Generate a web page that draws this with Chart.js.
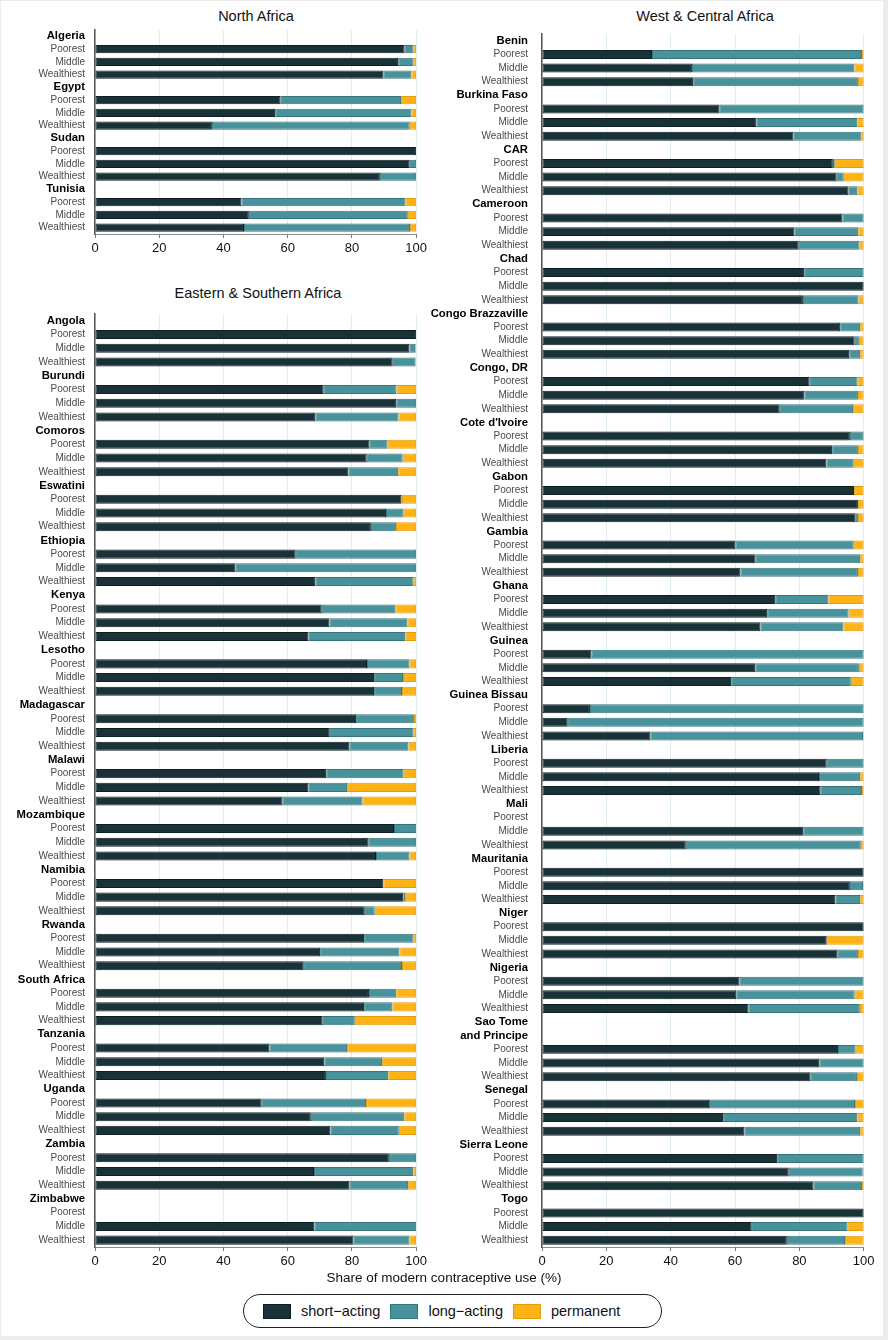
<!DOCTYPE html>
<html>
<head>
<meta charset="utf-8">
<script src="https://cdn.jsdelivr.net/npm/chart.js@4.4.1/dist/chart.umd.min.js"></script>
<style>
  body { margin: 0; background: #ececec; font-family: "Liberation Sans", Arial, Helvetica, sans-serif; }
  #page { position: absolute; left: 1px; top: 1px; width: 882px; height: 1335px; background: #fff; }
  canvas { position: absolute; }
  .ttl { position: absolute; width: 320px; text-align: center; font-size: 14.5px; line-height: 18px; color: #111; }
  #xtitle { position: absolute; left: 144px; top: 1269px; width: 600px; text-align: center; font-size: 13.5px; line-height: 18px; color: #111; }
  #legend { position: absolute; left: 243px; top: 1294px; width: 398px; height: 32px; border: 1.5px solid #222; border-radius: 18px;
            display: flex; align-items: center; padding-left: 19px; box-sizing: content-box; }
  #legend .box { width: 26px; height: 13px; border: 1px solid; margin-right: 10px; }
  #legend .lab { font-size: 14.5px; color: #111; margin-right: 10px; }
</style>
</head>
<body>
<div id="page"></div>
<div class="ttl" style="left:96px;top:7px">North Africa</div>
<div class="ttl" style="left:98px;top:284px">Eastern &amp; Southern Africa</div>
<div class="ttl" style="left:545px;top:7px">West &amp; Central Africa</div>
<canvas id="na" width="430" height="250" style="left:0;top:14px"></canvas>
<canvas id="es" width="430" height="979" style="left:0;top:298px"></canvas>
<canvas id="wc" width="463" height="1263" style="left:425px;top:14px"></canvas>
<div id="xtitle">Share of modern contraceptive use (%)</div>
<div id="legend"></div>
<script>
const groups = ['Poorest', 'Middle', 'Wealthiest'];
const seriesNames = ['short−acting', 'long−acting', 'permanent'];
const xTicks = [0, 20, 40, 60, 80, 100];

// North Africa (3 values per country: Poorest, Middle, Wealthiest)
const naCountries = ['Algeria', 'Egypt', 'Sudan', 'Tunisia'];
const naShort = [96.4, 94.4, 89.8,  57.8, 56.1, 36.4,  100, 98.0, 88.7,  45.6, 47.9, 46.4];
const naLong  = [2.8, 4.8, 8.7,  37.5, 42.4, 61.6,  0, 2.0, 11.3,  51.1, 49.5, 51.7];
const naPerm  = [0.8, 0.8, 1.5,  4.7, 1.5, 2.0,  0, 0, 0,  3.3, 2.6, 1.9];

// Eastern & Southern Africa
const esCountries = ['Angola', 'Burundi', 'Comoros', 'Eswatini', 'Ethiopia', 'Kenya', 'Lesotho', 'Madagascar',
  'Malawi', 'Mozambique', 'Namibia', 'Rwanda', 'South Africa', 'Tanzania', 'Uganda', 'Zambia', 'Zimbabwe'];
const esShort = [100, 97.9, 92.7,  71.2, 93.8, 68.6,  85.5, 84.6, 78.9,  95.4, 90.6, 85.9,  62.5, 43.7, 68.6,
  70.6, 73.0, 66.5,  84.7, 86.9, 86.9,  81.3, 73.1, 79.2,  72.0, 66.5, 58.4,  93.1, 85.2, 87.5,
  89.8, 96.0, 84.0,  83.8, 70.1, 65.0,  85.3, 83.8, 70.9,  54.3, 71.4, 71.9,  51.9, 67.2, 73.3,
  91.5, 68.2, 79.2,  null, 68.3, 80.5];
const esLong = [0, 1.8, 7.1,  22.7, 6.2, 25.9,  5.6, 11.2, 15.5,  0.2, 5.5, 7.8,  37.5, 56.3, 30.6,
  22.9, 24.3, 30.1,  13.2, 9.0, 8.7,  18.0, 26.1, 18.4,  24.1, 12.0, 24.9,  6.9, 14.8, 10.4,
  0, 0.5, 3.1,  15.4, 24.7, 30.6,  8.5, 8.8, 10.0,  24.2, 18.0, 19.4,  32.5, 29.1, 21.3,
  8.5, 30.9, 18.3,  null, 31.7, 17.4];
const esPerm = [0, 0.3, 0.2,  6.1, 0, 5.5,  8.9, 4.2, 5.6,  4.4, 3.9, 6.3,  0, 0, 0.8,
  6.5, 2.7, 3.4,  2.1, 4.1, 4.4,  0.7, 0.8, 2.4,  3.9, 21.5, 16.7,  0, 0, 2.1,
  10.2, 3.5, 12.9,  0.8, 5.2, 4.4,  6.2, 7.4, 19.1,  21.5, 10.6, 8.7,  15.6, 3.7, 5.4,
  0, 0.9, 2.5,  null, 0, 2.1];

// West & Central Africa
const wcCountries = ['Benin', 'Burkina Faso', 'CAR', 'Cameroon', 'Chad', 'Congo Brazzaville', 'Congo, DR',
  "Cote d'Ivoire", 'Gabon', 'Gambia', 'Ghana', 'Guinea', 'Guinea Bissau', 'Liberia', 'Mali', 'Mauritania',
  'Niger', 'Nigeria', ['Sao Tome', 'and Principe'], 'Senegal', 'Sierra Leone', 'Togo'];
const wcShort = [34.2, 46.6, 47.0,  55.2, 66.7, 78.2,  90.4, 91.6, 95.3,  93.4, 78.5, 79.8,  81.5, 100, 81.1,
  92.7, 97.2, 95.5,  83.2, 81.6, 73.9,  95.7, 90.2, 88.4,  97.0, 98.2, 97.5,  60.1, 66.4, 61.7,
  72.5, 70.0, 67.9,  15.4, 66.3, 58.8,  14.9, 8.0, 33.7,  88.5, 86.1, 86.6,  null, 81.2, 44.7,
  100, 95.7, 91.2,  100, 88.5, 91.9,  61.4, 60.4, 64.2,  92.0, 86.2, 83.5,  51.9, 56.3, 62.9,
  73.1, 76.7, 84.4,  100, 65.2, 76.1];
const wcLong = [65.3, 50.5, 51.2,  44.8, 31.3, 21.1,  0.6, 2.2, 2.7,  6.6, 19.8, 18.9,  18.5, 0, 17.3,
  6.2, 1.3, 3.4,  14.9, 16.6, 22.8,  4.3, 8.0, 8.5,  0, 0, 0.7,  36.8, 32.5, 36.5,
  16.5, 25.3, 25.8,  84.6, 32.2, 37.2,  85.1, 92.0, 66.1,  11.5, 12.8, 12.9,  null, 18.8, 54.4,
  0, 4.1, 7.7,  0, 0, 6.3,  38.6, 36.8, 34.6,  5.5, 13.8, 14.4,  45.4, 41.7, 36.0,
  26.9, 23.0, 15.1,  0, 29.8, 18.1];
const wcPerm = [0.5, 2.9, 1.8,  0, 2.0, 0.7,  9.0, 6.2, 2.0,  0, 1.7, 1.3,  0, 0, 1.6,
  1.1, 1.5, 1.1,  1.9, 1.8, 3.3,  0, 1.8, 3.1,  3.0, 1.8, 1.8,  3.1, 1.1, 1.8,
  11.0, 4.7, 6.3,  0, 1.5, 4.0,  0, 0, 0.2,  0, 1.1, 0.5,  null, 0, 0.9,
  0, 0.2, 1.1,  0, 11.5, 1.8,  0, 2.8, 1.2,  2.5, 0, 2.1,  2.7, 2.0, 1.1,
  0, 0.3, 0.5,  0, 5.0, 5.8];

const FONT = '"Liberation Sans", Arial, Helvetica, sans-serif';
const fills = ['#183238', '#48929b', '#fdb215'];
const edges = ['#0c1f23', '#35767e', '#e59c0a'];

// one category per label line, country rows carry no bars
function buildRows(countries, s, l, p) {
  const rows = { labels: [], bold: [], s: [], l: [], p: [] };
  countries.forEach((c, i) => {
    (Array.isArray(c) ? c : [c]).forEach(line => {
      rows.labels.push(line); rows.bold.push(true);
      rows.s.push(null); rows.l.push(null); rows.p.push(null);
    });
    groups.forEach((g, j) => {
      rows.labels.push(g); rows.bold.push(false);
      rows.s.push(s[i * 3 + j]); rows.l.push(l[i * 3 + j]); rows.p.push(p[i * 3 + j]);
    });
  });
  return rows;
}

function makeChart(id, countries, s, l, p, yWidth, labelPad, rightPad) {
  const rows = buildRows(countries, s, l, p);
  const vals = [rows.s, rows.l, rows.p];
  return new Chart(document.getElementById(id), {
    type: 'bar',
    data: {
      labels: rows.labels,
      datasets: seriesNames.map((name, k) => ({
        label: name,
        data: vals[k],
        backgroundColor: fills[k],
        borderColor: edges[k],
        borderWidth: ctx => (ctx.raw ? 1 : 0),
        borderSkipped: false,
        categoryPercentage: 1,
        barPercentage: 0.66
      }))
    },
    options: {
      indexAxis: 'y',
      responsive: false,
      animation: false,
      layout: { padding: { top: 8, right: rightPad, bottom: 0, left: 0 } },
      plugins: { legend: { display: false }, tooltip: { enabled: false } },
      scales: {
        x: {
          stacked: true, min: 0, max: 100,
          afterBuildTicks: sc => { sc.ticks = xTicks.map(v => ({ value: v })); },
          ticks: { color: '#111', font: { family: FONT, size: 13 }, padding: 3, maxRotation: 0 },
          grid: { color: '#e0edf3', lineWidth: 1, tickLength: 4, tickColor: '#777' },
          border: { color: '#8a8a8a', width: 1 },
          afterFit: sc => { sc.height = 30; }
        },
        y: {
          stacked: true,
          ticks: {
            autoSkip: false,
            padding: labelPad,
            color: ctx => (rows.bold[ctx.index] ? '#000' : '#4a4a4a'),
            font: ctx => (rows.bold[ctx.index]
              ? { family: FONT, size: 11.3, weight: 'bold' }
              : { family: FONT, size: 10 })
          },
          grid: { display: false, drawTicks: false },
          border: { color: '#555', width: 1.5 },
          afterFit: sc => { sc.width = yWidth; }
        }
      }
    }
  });
}

makeChart('na', naCountries, naShort, naLong, naPerm, 95, 10, 13.5);
makeChart('es', esCountries, esShort, esLong, esPerm, 95, 10, 13.5);
makeChart('wc', wcCountries, wcShort, wcLong, wcPerm, 117, 14, 24.3);

const legend = document.getElementById('legend');
seriesNames.forEach((name, k) => {
  const b = document.createElement('span');
  b.className = 'box';
  b.style.background = fills[k];
  b.style.borderColor = edges[k];
  const t = document.createElement('span');
  t.className = 'lab';
  t.textContent = name;
  legend.appendChild(b);
  legend.appendChild(t);
});
</script>
</body>
</html>
